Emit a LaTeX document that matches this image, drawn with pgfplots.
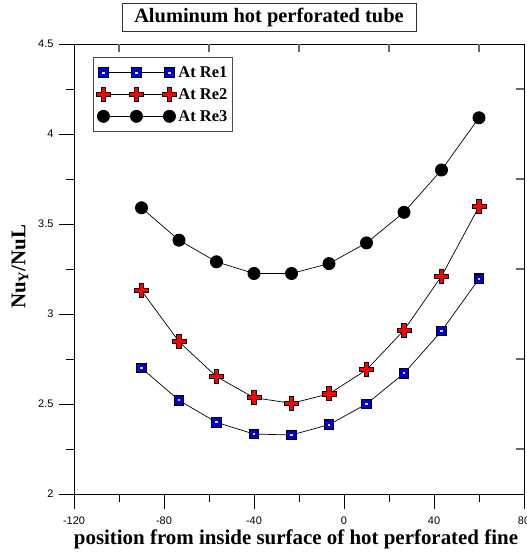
\documentclass[border=0pt]{standalone}
\usepackage{pgfplots}
\pgfplotsset{compat=1.18}
\usepackage{fontspec}
\setmainfont{Liberation Serif}
\newfontfamily\sansf{Liberation Sans}

\pgfdeclareplotmark{bsq}{%
  \pgfpathrectangle{\pgfpoint{-\pgfplotmarksize}{-\pgfplotmarksize}}{\pgfpoint{2\pgfplotmarksize}{2\pgfplotmarksize}}%
  \pgfusepathqfillstroke
  \begin{pgfscope}%
  \pgfsetfillcolor{white!75!gray}%
  \pgfpathrectangle{\pgfpoint{-1.1bp}{-1.1bp}}{\pgfpoint{2.2bp}{2.2bp}}%
  \pgfusepathqfill
  \end{pgfscope}%
}
\pgfdeclareplotmark{rplus}{%
  \pgfpathmoveto{\pgfpoint{-0.3\pgfplotmarksize}{\pgfplotmarksize}}%
  \pgfpathlineto{\pgfpoint{0.3\pgfplotmarksize}{\pgfplotmarksize}}%
  \pgfpathlineto{\pgfpoint{0.3\pgfplotmarksize}{0.3\pgfplotmarksize}}%
  \pgfpathlineto{\pgfpoint{\pgfplotmarksize}{0.3\pgfplotmarksize}}%
  \pgfpathlineto{\pgfpoint{\pgfplotmarksize}{-0.3\pgfplotmarksize}}%
  \pgfpathlineto{\pgfpoint{0.3\pgfplotmarksize}{-0.3\pgfplotmarksize}}%
  \pgfpathlineto{\pgfpoint{0.3\pgfplotmarksize}{-\pgfplotmarksize}}%
  \pgfpathlineto{\pgfpoint{-0.3\pgfplotmarksize}{-\pgfplotmarksize}}%
  \pgfpathlineto{\pgfpoint{-0.3\pgfplotmarksize}{-0.3\pgfplotmarksize}}%
  \pgfpathlineto{\pgfpoint{-\pgfplotmarksize}{-0.3\pgfplotmarksize}}%
  \pgfpathlineto{\pgfpoint{-\pgfplotmarksize}{0.3\pgfplotmarksize}}%
  \pgfpathlineto{\pgfpoint{-0.3\pgfplotmarksize}{0.3\pgfplotmarksize}}%
  \pgfpathclose
  \pgfusepathqfillstroke
}

\begin{document}
\begin{tikzpicture}
\begin{axis}[
  at={(74bp,59bp)}, anchor=south west,
  scale only axis, width=450bp, height=450bp,
  xmin=-120, xmax=80, ymin=2, ymax=4.5,
  xtick={-120,-80,-40,0,40,80},
  ytick={2,2.5,3,3.5,4,4.5},
  minor xtick={-100,-60,-20,20,60},
  minor ytick={2.25,2.75,3.25,3.75,4.25},
  xtick pos=bottom, ytick pos=left,
  tick align=outside,
  major tick length=15bp, minor tick length=8bp,
  every tick/.style={black, line width=0.9bp},
  axis line style={black, line width=0.9bp},
  /pgf/number format/assume math mode=true,
  ticklabel style={font=\sansf\fontsize{11}{13}\selectfont},
  yticklabel style={xshift=-2bp},
  xticklabel style={yshift=-4bp},
  xlabel={\textbf{position from inside surface of hot perforated fine}},
  xlabel style={at={(axis description cs:0.4933,-0.1)}, anchor=center, font=\fontsize{21}{23}\selectfont},
  ylabel={\textbf{Nu\textsubscript{Y}/NuL}},
  ylabel style={at={(axis description cs:-0.12,0.505)}, anchor=center, rotate=0, font=\fontsize{21}{23}\selectfont},
  title={\textbf{Aluminum hot perforated tube}},
  title style={at={(axis description cs:0.4333,1.0467)}, anchor=center, draw=black!80, line width=0.9bp,
    minimum width=294bp, minimum height=28bp, inner sep=0pt, font=\fontsize{20.5}{22}\selectfont},
  legend style={at={(axis description cs:0.0422,0.9711)}, anchor=north west,
    draw=black!70, line width=0.9bp, fill=white, font=\bfseries\fontsize{16.5}{18}\selectfont,
    row sep=5.5bp, inner xsep=3bp, inner ysep=7bp},
  legend cell align=left,
  legend image code/.code={%
    \draw[black, line width=0.7bp] (0bp,0bp) -- (66bp,0bp);
    \draw[mark repeat=1, draw=none] plot coordinates {(0bp,0bp) (33bp,0bp) (66bp,0bp)};
  },
]
\addplot[black, line width=0.7bp, mark=bsq, mark size=4.8bp,
  mark options={draw=black, line width=1.2bp, fill=blue!85!black, solid}]
  coordinates {(-90,2.70) (-73.33,2.52) (-56.67,2.398) (-40,2.333) (-23.33,2.328)
               (-6.67,2.385) (10,2.50) (26.67,2.67) (43.33,2.905) (60,3.195)};
\addlegendentry{At Re1}
\addplot[black, line width=0.7bp, mark=rplus, mark size=7bp,
  mark options={draw=black, line width=0.9bp, fill=red, solid}]
  coordinates {(-90,3.13) (-73.33,2.846) (-56.67,2.652) (-40,2.535) (-23.33,2.504)
               (-6.67,2.556) (10,2.69) (26.67,2.91) (43.33,3.21) (60,3.596)};
\addlegendentry{At Re2}
\addplot[black, line width=0.7bp, mark=*, mark size=6.1bp,
  mark options={draw=black, fill=black, solid}]
  coordinates {(-90,3.59) (-73.33,3.41) (-56.67,3.29) (-40,3.225) (-23.33,3.225)
               (-6.67,3.28) (10,3.395) (26.67,3.565) (43.33,3.80) (60,4.09)};
\addlegendentry{At Re3}
\end{axis}
\begin{axis}[
  at={(74bp,59bp)}, anchor=south west,
  scale only axis, width=450bp, height=450bp,
  xmin=-120, xmax=80, ymin=2, ymax=4.5,
  xtick={-100,-60,-20,20,60},
  ytick={2.25,2.75,3.25,3.75,4.25},
  xtick pos=top, ytick pos=right,
  tick align=inside, major tick length=8bp,
  every tick/.style={black!60, line width=1.2bp},
  axis line style={draw=none},
  xticklabels={}, yticklabels={},
]
\end{axis}
\pgfresetboundingbox
\path[use as bounding box] (0bp,0bp) rectangle (527bp,553bp);
\end{tikzpicture}
\end{document}
